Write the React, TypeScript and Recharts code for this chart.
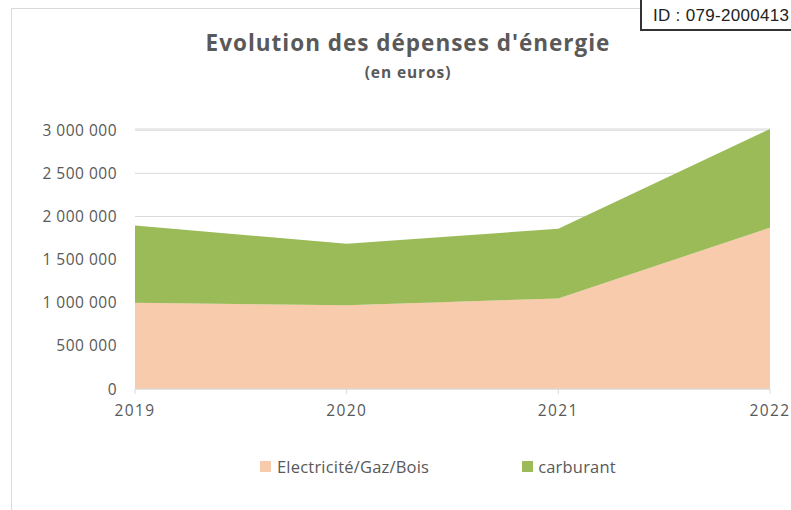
import React from "react";
import { AreaChart, Area, XAxis, YAxis, CartesianGrid } from "recharts";

const years = ["2019", "2020", "2021", "2022"];
const electricite = [1000000, 970000, 1050000, 1870000];
const carburant = [895000, 714000, 808000, 1144000];
const yTicks = [0, 500000, 1000000, 1500000, 2000000, 2500000, 3000000];
const seriesNames = ["Electricité/Gaz/Bois", "carburant"];
const colors = ["#F8CBAD", "#9BBB59"];

const data = years.map((y, i) => ({ year: y, elec: electricite[i], carb: carburant[i] }));

const fmt = (v: number) => {
  const s = String(Math.round(v));
  return s.replace(/\B(?=(\d{3})+(?!\d))/g, "\u00a0");
};

const FONT = "'Open Sans', 'Lato', sans-serif";
const GRAY = "#595959";

export default function App() {
  return (
    <div style={{ position: "absolute", left: 0, top: 0, width: 791, height: 510, overflow: "hidden", background: "#fff", fontFamily: FONT }}>
      <div style={{ position: "absolute", left: 11, top: 8, width: 820, height: 520, borderLeft: "1.5px solid #d9d9d9", borderTop: "1.5px solid #d9d9d9" }} />
      <div style={{ position: "absolute", left: 0, top: 0 }}>
        <AreaChart width={791} height={510} data={data} margin={{ top: 129, right: 21, bottom: 91, left: 0 }}>
          <CartesianGrid vertical={false} stroke="#d9d9d9" strokeWidth={1} />
          <XAxis
            dataKey="year"
            height={30}
            tickSize={5}
            tickMargin={11}
            axisLine={{ stroke: "#d9d9d9" }}
            tickLine={{ stroke: "#d9d9d9" }}
            tick={{ fill: GRAY, fontSize: 15.5, fontFamily: FONT, letterSpacing: 1.4 }}
          />
          <YAxis
            width={135}
            domain={[0, 3000000]}
            ticks={yTicks}
            tickFormatter={fmt}
            axisLine={false}
            tickLine={false}
            tickSize={0}
            tickMargin={18}
            tick={{ fill: GRAY, fontSize: 15.5, fontFamily: FONT, letterSpacing: 0.5 }}
          />
          <Area type="linear" dataKey="elec" name={seriesNames[0]} stackId="1" stroke="none" fill={colors[0]} fillOpacity={1} isAnimationActive={false} />
          <Area type="linear" dataKey="carb" name={seriesNames[1]} stackId="1" stroke="none" fill={colors[1]} fillOpacity={1} isAnimationActive={false} />
        </AreaChart>
      </div>
      <div style={{ position: "absolute", left: 0, width: 816, top: 27, textAlign: "center", fontSize: 22.5, fontWeight: 700, color: GRAY, letterSpacing: 1.0 }}>
        Evolution des dépenses d'énergie
      </div>
      <div style={{ position: "absolute", left: 0, width: 816, top: 61, textAlign: "center", fontSize: 15.5, fontWeight: 700, color: GRAY, letterSpacing: 0.9 }}>
        (en euros)
      </div>
      <div style={{ position: "absolute", left: 260, top: 455, display: "flex", alignItems: "center", fontSize: 16.5, color: GRAY, whiteSpace: "nowrap", letterSpacing: 0.2 }}>
        <span style={{ display: "inline-block", width: 11, height: 11, background: colors[0], marginRight: 6 }} />
        <span>{seriesNames[0]}</span>
        <span style={{ display: "inline-block", width: 11, height: 11, background: colors[1], marginLeft: 93, marginRight: 5 }} />
        <span>{seriesNames[1]}</span>
      </div>
      <div style={{ position: "absolute", left: 640, top: -2, width: 200, height: 33, border: "2px solid #333", background: "#fff", boxSizing: "border-box", fontFamily: "'Liberation Sans', Arial, sans-serif", fontSize: 17, color: "#222", paddingLeft: 11, lineHeight: "31px", whiteSpace: "nowrap", letterSpacing: 0.3 }}>
        ID : 079-2000413
      </div>
    </div>
  );
}
